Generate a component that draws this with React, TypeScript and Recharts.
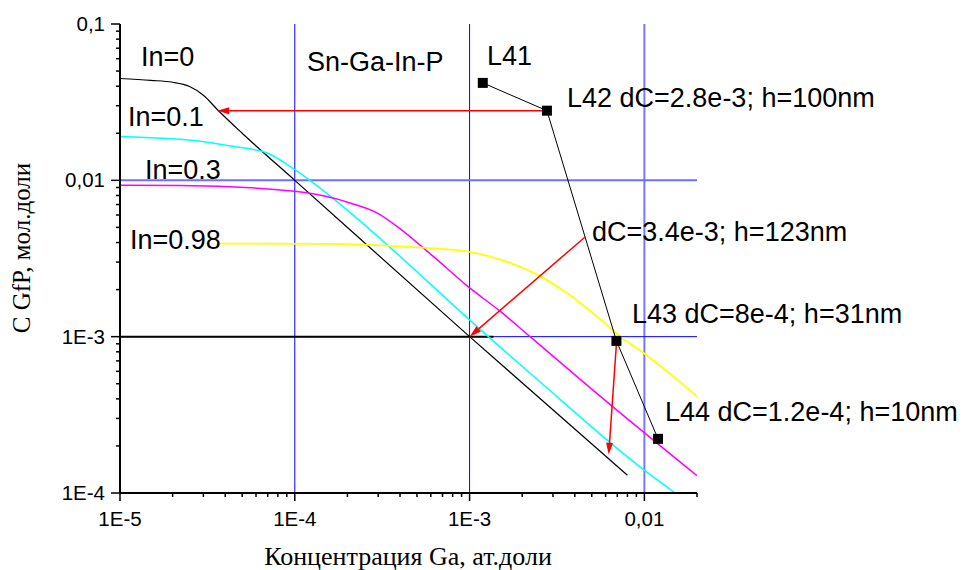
import React from 'react';
import { LineChart, Line, XAxis, YAxis, ReferenceLine } from 'recharts';

// curves: [Ga concentration, C GfP]
const curveIn0 = [[1e-5, 0.0448], [1.5e-5, 0.0436], [2e-5, 0.0424], [2.5e-5, 0.0398], [3e-5, 0.035], [3.6e-5, 0.0284], [5e-5, 0.02], [1e-4, 0.01], [1e-3, 0.001], [8e-3, 0.00013]];
const curveIn01 = [[1e-5, 0.0191], [2.9e-5, 0.0178], [4.4e-5, 0.0165], [6.9e-5, 0.015], [1e-4, 0.0117], [1.22e-4, 0.01], [1.6e-4, 0.0079], [1.28e-3, 0.001], [2.45e-3, 0.00053], [9.9e-3, 0.000141], [0.015, 0.0001]];
const curveIn03 = [[1e-5, 0.00929], [2.2e-5, 0.00927], [1e-4, 0.0085], [2.07e-4, 0.00717], [2.95e-4, 0.00619], [3.84e-4, 0.00508], [6.2e-4, 0.00326], [9.65e-4, 0.00212], [1.5e-3, 0.00145], [2.22e-3, 0.001], [4.1e-3, 0.000557], [5.6e-3, 0.000415], [0.02, 0.000129]];
const curveIn098 = [[3.74e-5, 0.00394], [1.59e-4, 0.00392], [4e-4, 0.00378], [9.65e-4, 0.00351], [1.5e-3, 0.00311], [2.13e-3, 0.00268], [2.54e-3, 0.00243], [3.6e-3, 0.0019], [5.6e-3, 0.00129], [7.28e-3, 0.001], [9.9e-3, 0.000786], [0.0154, 0.000531], [0.02, 0.000415]];

// measured layers L41..L44
const markerNames = ['L41', 'L42', 'L43', 'L44'];
const markerX = [1.19e-3, 2.77e-3, 6.92e-3, 0.01197];
const markerY = [0.042, 0.0279, 0.00094, 0.000222];

// red arrows
const arrowFrom = [[2.77e-3, 0.0279], [4.6e-3, 0.00436], [6.92e-3, 0.0009]];
const arrowTo = [[3.6e-5, 0.0279], [1e-3, 0.001], [6.25e-3, 0.000176]];

const baseLine = [[1e-5, 0.001], [1.37e-3, 0.001]];

const xTickValues = [1e-5, 1e-4, 1e-3, 0.01];
const xTickLabels = ['1E-5', '1E-4', '1E-3', '0,01'];
const yTickValues = [1e-4, 1e-3, 0.01, 0.1];
const yTickLabels = ['1E-4', '1E-3', '0,01', '0,1'];
const xGrid = [1e-4, 1e-3, 0.01];
const yGrid = [0.01, 1e-3];

const toPoints = (arr: number[][]) => arr.map(([x, y]) => ({ x, y }));
const minorTicks = (from: number, to: number, max: number) => {
  const out: number[] = [];
  for (let e = from; e <= to; e++) {
    for (let m = 1; m <= 9; m++) {
      const v = Number((m * Math.pow(10, e)).toPrecision(3));
      if (v <= max * 1.0001) out.push(v);
    }
  }
  return out;
};
const xTicksAll = minorTicks(-5, -2, 0.02);
const yTicksAll = minorTicks(-4, -1, 0.1);
const isMajor = (v: number) => Math.abs(Math.log10(v) - Math.round(Math.log10(v))) < 1e-6;
const labelFor = (v: number, values: number[], labels: string[]) => {
  const i = values.findIndex((t) => Math.abs(t - v) / t < 1e-6);
  return i >= 0 ? labels[i] : '';
};

const SANS = '"Liberation Sans", Arial, sans-serif';
const SERIF = '"Liberation Serif", "Times New Roman", serif';

const XTick = (props: any) => {
  const { x, y, payload } = props;
  const major = isMajor(payload.value);
  return (
    <g>
      <line x1={x} x2={x} y1={y} y2={y + (major ? 8 : 4)} stroke="#000" strokeWidth={1.5} />
      {major && (
        <text x={x} y={y + 33} textAnchor="middle" fontSize={20.5} fontFamily={SANS} fill="#000">
          {labelFor(payload.value, xTickValues, xTickLabels)}
        </text>
      )}
    </g>
  );
};

const YTick = (props: any) => {
  const { x, y, payload } = props;
  const major = isMajor(payload.value);
  return (
    <g>
      <line x1={x - (major ? 9 : 4)} x2={x} y1={y} y2={y} stroke="#000" strokeWidth={1.5} />
      {major && (
        <text x={x - 15} y={y + 7} textAnchor="end" fontSize={20.5} fontFamily={SANS} fill="#000">
          {labelFor(payload.value, yTickValues, yTickLabels)}
        </text>
      )}
    </g>
  );
};

const ArrowShape = (props: any) => {
  const { x1, y1, x2, y2 } = props;
  const a = Math.atan2(y2 - y1, x2 - x1);
  const len = 12;
  const hw = 3.5;
  const bx = x2 - len * Math.cos(a);
  const by = y2 - len * Math.sin(a);
  const px = -Math.sin(a) * hw;
  const py = Math.cos(a) * hw;
  return (
    <g>
      <line x1={x1} y1={y1} x2={bx} y2={by} stroke="#ff0000" strokeWidth={1.5} />
      <polygon points={`${x2},${y2} ${bx + px},${by + py} ${bx - px},${by - py}`} fill="#ff0000" />
    </g>
  );
};

const SquareDot = (props: any) => {
  const { cx, cy } = props;
  return <rect x={cx - 5} y={cy - 5} width={10} height={10} fill="#000" />;
};

const markers = markerX.map((x, i) => ({ x, y: markerY[i], name: markerNames[i] }));

const annotations = [
  { text: 'In=0', x: 141, y: 66 },
  { text: 'In=0.1', x: 128, y: 126 },
  { text: 'In=0.3', x: 145, y: 179 },
  { text: 'In=0.98', x: 130, y: 249 },
  { text: 'Sn-Ga-In-P', x: 307, y: 71 },
  { text: 'L41', x: 487, y: 65 },
  { text: 'L42 dC=2.8e-3; h=100nm', x: 567, y: 107 },
  { text: 'dC=3.4e-3; h=123nm', x: 592, y: 241 },
  { text: 'L43 dC=8e-4; h=31nm', x: 632, y: 323 },
  { text: 'L44 dC=1.2e-4; h=10nm', x: 665, y: 421 },
];

export default function App() {
  return (
    <div style={{ position: 'absolute', left: 0, top: 0, width: 980, height: 570, background: '#fff' }}>
      <LineChart width={980} height={570} margin={{ top: 24, right: 283, bottom: 37, left: 60 }}>
        <XAxis
          type="number"
          dataKey="x"
          scale="log"
          domain={[1e-5, 0.02]}
          allowDataOverflow
          ticks={xTicksAll}
          interval={0}
          tick={<XTick />}
          tickSize={0}
          tickMargin={0}
          tickLine={false}
          axisLine={{ stroke: '#000', strokeWidth: 2 }}
          height={40}
        />
        <YAxis
          type="number"
          dataKey="y"
          scale="log"
          domain={[1e-4, 0.1]}
          allowDataOverflow
          ticks={yTicksAll}
          interval={0}
          tick={<YTick />}
          tickSize={0}
          tickMargin={0}
          tickLine={false}
          axisLine={{ stroke: '#000', strokeWidth: 2 }}
          width={60}
        />
        {xGrid.map((v) => (
          <ReferenceLine key={'gx' + v} x={v} stroke={v === 0.01 ? '#7878ff' : '#0000ff'} strokeWidth={v === 0.01 ? 2 : 1} />
        ))}
        {yGrid.map((v) => (
          <ReferenceLine key={'gy' + v} y={v} stroke={v === 0.01 ? '#7070ff' : '#0000ff'} strokeWidth={v === 0.01 ? 2 : 1} />
        ))}
        <ReferenceLine
          segment={[{ x: baseLine[0][0], y: baseLine[0][1] }, { x: baseLine[1][0], y: baseLine[1][1] }]}
          stroke="#000"
          strokeWidth={2}
        />
        <Line data={toPoints(curveIn0)} dataKey="y" type="monotone" stroke="#000" strokeWidth={1.2} dot={false} activeDot={false} isAnimationActive={false} />
        <Line data={toPoints(curveIn01)} dataKey="y" type="monotone" stroke="#00ffff" strokeWidth={1.5} dot={false} activeDot={false} isAnimationActive={false} />
        <Line data={toPoints(curveIn03)} dataKey="y" type="monotone" stroke="#ff00ff" strokeWidth={1.5} dot={false} activeDot={false} isAnimationActive={false} />
        <Line data={toPoints(curveIn098)} dataKey="y" type="monotone" stroke="#ffff00" strokeWidth={1.8} dot={false} activeDot={false} isAnimationActive={false} />
        <Line data={markers} dataKey="y" type="linear" stroke="#000" strokeWidth={1} dot={<SquareDot />} activeDot={false} isAnimationActive={false} />
        {arrowFrom.map((f, i) => (
          <ReferenceLine
            key={'ar' + i}
            segment={[{ x: f[0], y: f[1] }, { x: arrowTo[i][0], y: arrowTo[i][1] }]}
            shape={<ArrowShape />}
          />
        ))}
      </LineChart>
      <svg width={980} height={570} style={{ position: 'absolute', left: 0, top: 0, pointerEvents: 'none' }}>
        {annotations.map((a) => (
          <text key={a.text} x={a.x} y={a.y} fontSize={27} fontFamily={SANS} fill="#000">
            {a.text}
          </text>
        ))}
        <text x={408} y={565} textAnchor="middle" fontSize={26} fontFamily={SERIF} fill="#000">
          Концентрация Ga, ат.доли
        </text>
        <text transform="translate(30,248) rotate(-90)" textAnchor="middle" fontSize={25} fontFamily={SERIF} fill="#000">
          C GfP, мол.доли
        </text>
      </svg>
    </div>
  );
}
